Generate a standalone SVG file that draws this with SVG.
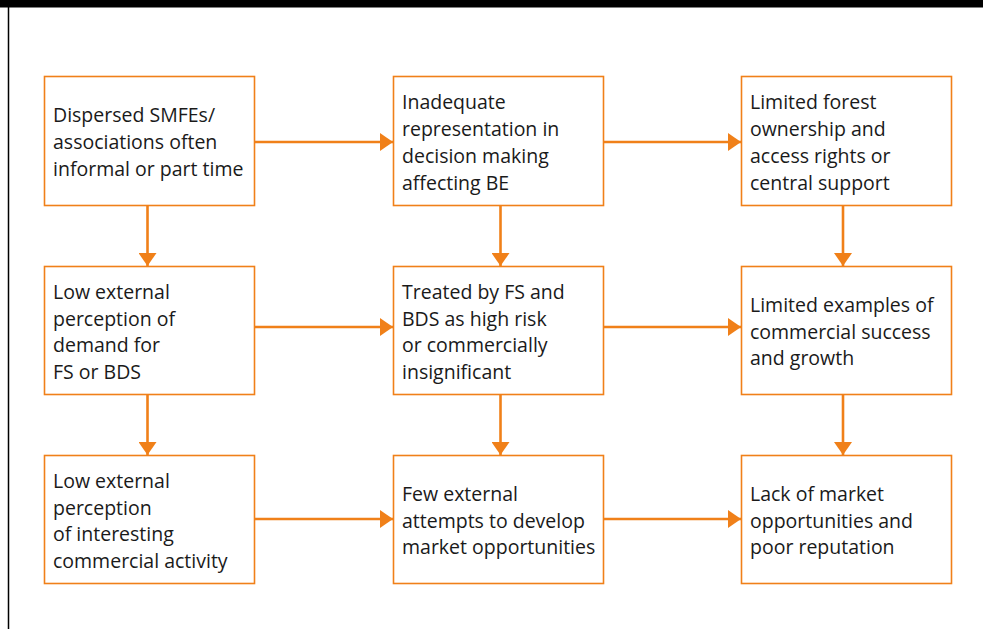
<svg xmlns="http://www.w3.org/2000/svg" width="983" height="629" viewBox="0 0 983 629">
  <defs>
    <marker id="arrow" markerWidth="13" markerHeight="18" refX="13" refY="9" orient="auto" markerUnits="userSpaceOnUse">
      <path d="M0,0 L13,9 L0,18 Z" fill="#F08019"/>
    </marker>
    <style>
      .box { fill: #ffffff; stroke: #F08019; stroke-width: 1.6; }
      .lbl { font-family: "Open Sans", "Noto Sans", "Liberation Sans", sans-serif; font-size: 19.5px; fill: #1a1a1a; }
      .conn { stroke: #F08019; stroke-width: 2.6; fill: none; marker-end: url(#arrow); }
    </style>
  </defs>

  <!-- page frame -->
  <rect x="0" y="0" width="983" height="629" fill="#ffffff"/>
  <rect x="0" y="0" width="983" height="7.5" fill="#000000"/>
  <line x1="8.5" y1="7" x2="8.5" y2="629" stroke="#000000" stroke-width="1.5"/>

  <!-- connectors -->
  <g id="connectors">
    <line class="conn" x1="254.5" y1="142" x2="393" y2="142"/>
    <line class="conn" x1="603.5" y1="142" x2="741" y2="142"/>
    <line class="conn" x1="254.5" y1="327" x2="393" y2="327"/>
    <line class="conn" x1="603.5" y1="327" x2="741" y2="327"/>
    <line class="conn" x1="254.5" y1="519" x2="393" y2="519"/>
    <line class="conn" x1="603.5" y1="519" x2="741" y2="519"/>
    <line class="conn" x1="147.5" y1="205.5" x2="147.5" y2="266"/>
    <line class="conn" x1="500.5" y1="205.5" x2="500.5" y2="266"/>
    <line class="conn" x1="843" y1="205.5" x2="843" y2="266"/>
    <line class="conn" x1="147.5" y1="394.5" x2="147.5" y2="455"/>
    <line class="conn" x1="500.5" y1="394.5" x2="500.5" y2="455"/>
    <line class="conn" x1="843" y1="394.5" x2="843" y2="455"/>
  </g>

  <!-- row 1 -->
  <g id="n-dispersed">
    <rect class="box" x="44.5" y="76.5" width="210" height="129"/>
    <text class="lbl" x="53" y="122">Dispersed SMFEs/</text>
    <text class="lbl" x="53" y="149">associations often</text>
    <text class="lbl" x="53" y="176">informal or part time</text>
  </g>
  <g id="n-representation">
    <rect class="box" x="393.5" y="76.5" width="210" height="129"/>
    <text class="lbl" x="402" y="109">Inadequate</text>
    <text class="lbl" x="402" y="136">representation in</text>
    <text class="lbl" x="402" y="163">decision making</text>
    <text class="lbl" x="402" y="190">affecting BE</text>
  </g>
  <g id="n-ownership">
    <rect class="box" x="741.5" y="76.5" width="210" height="129"/>
    <text class="lbl" x="750" y="109">Limited forest</text>
    <text class="lbl" x="750" y="136">ownership and</text>
    <text class="lbl" x="750" y="163">access rights or</text>
    <text class="lbl" x="750" y="190">central support</text>
  </g>

  <!-- row 2 -->
  <g id="n-demand">
    <rect class="box" x="44.5" y="266.5" width="210" height="128"/>
    <text class="lbl" x="53" y="299">Low external</text>
    <text class="lbl" x="53" y="326">perception of</text>
    <text class="lbl" x="53" y="352">demand for</text>
    <text class="lbl" x="53" y="379">FS or BDS</text>
  </g>
  <g id="n-highrisk">
    <rect class="box" x="393.5" y="266.5" width="210" height="128"/>
    <text class="lbl" x="402" y="299">Treated by FS and</text>
    <text class="lbl" x="402" y="326">BDS as high risk</text>
    <text class="lbl" x="402" y="352">or commercially</text>
    <text class="lbl" x="402" y="379">insignificant</text>
  </g>
  <g id="n-examples">
    <rect class="box" x="741.5" y="266.5" width="210" height="128"/>
    <text class="lbl" x="750" y="312">Limited examples of</text>
    <text class="lbl" x="750" y="339">commercial success</text>
    <text class="lbl" x="750" y="365">and growth</text>
  </g>

  <!-- row 3 -->
  <g id="n-activity">
    <rect class="box" x="44.5" y="455.5" width="210" height="128"/>
    <text class="lbl" x="53" y="488">Low external</text>
    <text class="lbl" x="53" y="515">perception</text>
    <text class="lbl" x="53" y="541">of interesting</text>
    <text class="lbl" x="53" y="568">commercial activity</text>
  </g>
  <g id="n-attempts">
    <rect class="box" x="393.5" y="455.5" width="210" height="128"/>
    <text class="lbl" x="402" y="501">Few external</text>
    <text class="lbl" x="402" y="528">attempts to develop</text>
    <text class="lbl" x="402" y="554">market opportunities</text>
  </g>
  <g id="n-reputation">
    <rect class="box" x="741.5" y="455.5" width="210" height="128"/>
    <text class="lbl" x="750" y="501">Lack of market</text>
    <text class="lbl" x="750" y="528">opportunities and</text>
    <text class="lbl" x="750" y="554">poor reputation</text>
  </g>
</svg>
